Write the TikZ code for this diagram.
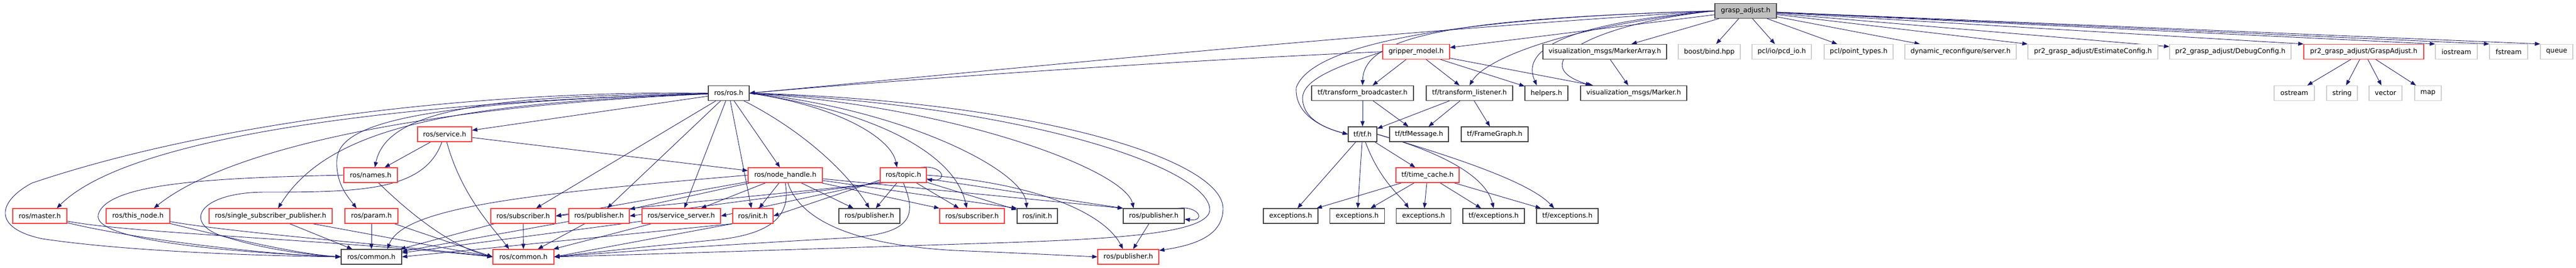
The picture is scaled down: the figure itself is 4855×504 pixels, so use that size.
\documentclass[tikz,border=0pt]{standalone}
\usepackage{fontspec}
\setmainfont{DejaVu Sans}
\usetikzlibrary{arrows.meta,calc,backgrounds}
\definecolor{depblue}{HTML}{191970}
\definecolor{truncred}{HTML}{FF3A3A}
\definecolor{extgrey}{HTML}{CDCDCD}
\definecolor{hdrgrey}{HTML}{404040}
\definecolor{rootfill}{HTML}{BFBFBF}
\tikzset{hdr/.style = {rectangle,draw=hdrgrey,line width=1.2pt,fill=white,minimum height=28pt,inner sep=0pt,font=\fontsize{12.7}{15}\selectfont},
  trunc/.style = {hdr,draw=truncred},
  ext/.style = {hdr,draw=extgrey},
  rootf/.style = {hdr,fill=rootfill},
  dep/.style = {draw=depblue,line width=0.9pt,-{Triangle[length=10pt,width=7.5pt]}}}

\begin{document}
\begin{tikzpicture}[x=1pt,y=-1pt]
        \useasboundingbox (0,0) rectangle (4855,504);
        % top rows
        \node [rootf,minimum width=116pt] (grasp) at (3290,20.5) {grasp\_adjust.h};
        \node [trunc,minimum width=126pt] (gripper) at (2669,97.5) {gripper\_model.h};
        \node [hdr,minimum width=233pt] (markerarray) at (3024.5,97.5) {visualization\_msgs/MarkerArray.h};
        \node [ext,minimum width=117pt] (boostbind) at (3221.5,97.5) {boost/bind.hpp};
        \node [ext,minimum width=112pt] (pcdio) at (3358,97.5) {pcl/io/pcd\_io.h};
        \node [ext,minimum width=130pt] (pointtypes) at (3503,97.5) {pcl/point\_types.h};
        \node [ext,minimum width=210pt] (dynserver) at (3695,97.5) {dynamic\_reconfigure/server.h};
        \node [ext,minimum width=245pt] (estimatecfg) at (3944.5,97.5) {pr2\_grasp\_adjust/EstimateConfig.h};
        \node [ext,minimum width=229pt] (debugcfg) at (4203.5,97.5) {pr2\_grasp\_adjust/DebugConfig.h};
        \node [trunc,minimum width=226pt] (graspadjust) at (4455,97.5) {pr2\_grasp\_adjust/GraspAdjust.h};
        \node [ext,minimum width=79pt] (iostream) at (4629.5,97.5) {iostream};
        \node [ext,minimum width=72pt] (fstream) at (4728,97.5) {fstream};
        \node [ext,minimum width=61pt] (queue) at (4818.5,97.5) {queue};

        \node [hdr,minimum width=77pt] (rosros) at (1373.5,175.5) {ros/ros.h};
        \node [hdr,minimum width=192pt] (tfbroad) at (2568,175.5) {tf/transform\_broadcaster.h};
        \node [hdr,minimum width=163pt] (tflisten) at (2769.5,175.5) {tf/transform\_listener.h};
        \node [hdr,minimum width=81pt] (helpers) at (2914.5,175.5) {helpers.h};
        \node [hdr,minimum width=200pt] (marker) at (3079,175.5) {visualization\_msgs/Marker.h};
        \node [ext,minimum width=76pt] (ostream) at (4324,175.5) {ostream};
        \node [ext,minimum width=58pt] (string) at (4414,175.5) {string};
        \node [ext,minimum width=62pt] (vector) at (4496,175.5) {vector};
        \node [ext,minimum width=50pt] (map) at (4576,175.5) {map};

        \node [trunc,minimum width=102pt] (service) at (838,253) {ros/service.h};
        \node [hdr,minimum width=54pt] (tftf) at (2568,253) {tf/tf.h};
        \node [hdr,minimum width=111pt] (tfmsg) at (2674.5,253) {tf/tfMessage.h};
        \node [hdr,minimum width=126pt] (framegraph) at (2817,253) {tf/FrameGraph.h};

        \node [trunc,minimum width=101pt] (names) at (698.5,330) {ros/names.h};
        \node [trunc,minimum width=140pt] (nodehandle) at (1480,330) {ros/node\_handle.h};
        \node [trunc,minimum width=87pt] (topic) at (1702.5,330) {ros/topic.h};
        \node [trunc,minimum width=119pt] (timecache) at (2690.5,330) {tf/time\_cache.h};

        % ros headers, lower rows
        \node [trunc,minimum width=102pt] (master) at (75,407) {ros/master.h};
        \node [trunc,minimum width=120pt] (thisnode) at (260,407) {ros/this\_node.h};
        \node [trunc,minimum width=232pt] (singlesub) at (510,407) {ros/single\_subscriber\_publisher.h};
        \node [trunc,minimum width=100pt] (param) at (700,407) {ros/param.h};
        \node [trunc,minimum width=122pt] (subA) at (986,407) {ros/subscriber.h};
        \node [trunc,minimum width=114pt] (pubA) at (1129,407) {ros/publisher.h};
        \node [trunc,minimum width=148pt] (srvserver) at (1284,407) {ros/service\_server.h};
        \node [trunc,minimum width=76pt] (initA) at (1419,407) {ros/init.h};
        \node [hdr,minimum width=115pt] (pubB) at (1638.5,407) {ros/publisher.h};
        \node [trunc,minimum width=122pt] (subB) at (1832,407) {ros/subscriber.h};
        \node [hdr,minimum width=76pt] (initB) at (1955,407) {ros/init.h};
        \node [hdr,minimum width=115pt] (pubC) at (2174.5,407) {ros/publisher.h};
        \node [hdr,minimum width=103pt] (excA) at (2432.5,407) {exceptions.h};
        \node [hdr,minimum width=103pt] (excB) at (2558,407) {exceptions.h};
        \node [hdr,minimum width=103pt] (excC) at (2683,407) {exceptions.h};
        \node [hdr,minimum width=116pt] (tfexcA) at (2815,407) {tf/exceptions.h};
        \node [hdr,minimum width=116pt] (tfexcB) at (2954,407) {tf/exceptions.h};

        \node [hdr,minimum width=114pt] (commonA) at (700,484) {ros/common.h};
        \node [trunc,minimum width=115pt] (commonB) at (986.5,484) {ros/common.h};
        \node [trunc,minimum width=115pt] (pubD) at (2126.5,484) {ros/publisher.h};

        \begin{scope}[on background layer]
        % grasp_adjust.h
        \foreach \t in {gripper,markerarray,boostbind,pcdio,pointtypes,dynserver,estimatecfg,debugcfg}
            \draw [dep] (grasp) -- (\t);
        \foreach \t in {graspadjust,iostream,fstream,queue}
            \draw [dep] (grasp) -- (\t.north west);
        \draw [dep] (grasp.west) .. controls (2600,60) and (1900,130) .. (rosros.east);
        \draw [dep] (grasp.west) .. controls (2750,35) and (2570,65) .. (tfbroad.north);
        \draw [dep] (grasp.west) .. controls (2700,35) and (2470,90) .. (2443,165) .. controls (2440,215) and (2490,240) .. (tftf.west);
        \draw [dep] (grasp.west) .. controls (2950,50) and (2800,110) .. (tflisten.north);
        \draw [dep] (grasp.west) .. controls (3000,40) and (2860,80) .. ($(helpers.north)+(-18,0)$);
        \draw [dep] (grasp.west) .. controls (3000,45) and (2870,120) .. ($(marker.north west)+(20,0)$);

        % gripper_model.h and tf
        \draw [dep] (gripper.west) .. controls (2200,115) and (1700,150) .. (rosros.east);
        \foreach \t in {tfbroad,tflisten,helpers,marker}
            \draw [dep] (gripper) -- (\t);
        \draw [dep] (gripper.west) .. controls (2520,125) and (2455,150) .. (2455,185) .. controls (2455,220) and (2490,240) .. (tftf.west);
        \draw [dep] (markerarray) -- (marker);
        \foreach \t in {tftf,tfmsg}
            \draw [dep] (tfbroad) -- (\t);
        \foreach \t in {tftf,tfmsg,framegraph}
            \draw [dep] (tflisten) -- (\t);
        \foreach \t in {excA,excB,timecache}
            \draw [dep] (tftf) -- (\t);
        \draw [dep] (tftf) .. controls (2600,340) and (2640,370) .. ($(excC.north)+(-28,0)$);
        \draw [dep] (tftf.east) .. controls (2710,285) and (2800,330) .. (tfexcA.north);
        \draw [dep] (tftf.east) .. controls (2720,290) and (2880,340) .. ($(tfexcB.north)+(-25,0)$);
        \foreach \t in {excA,excB,excC,tfexcA,tfexcB}
            \draw [dep] (timecache) -- (\t);
        \foreach \t in {ostream,string,vector,map}
            \draw [dep] (graspadjust) -- (\t);

        % ros/ros.h
        \foreach \t in {service,subA,pubA,srvserver,initA,nodehandle}
            \draw [dep] (rosros) -- (\t);
        \draw [dep] (rosros) .. controls (800,190) and (250,250) .. ($(master.north)+(32,0)$);
        \draw [dep] (rosros) .. controls (800,200) and (430,280) .. ($(thisnode.north)+(30,0)$);
        \draw [dep] (rosros) .. controls (850,195) and (620,240) .. ($(singlesub.north)+(14,0)$);
        \draw [dep] (rosros) .. controls (950,180) and (730,200) .. ($(names.north)+(8,0)$);
        \draw [dep] (rosros) .. controls (800,192) and (640,230) .. (635,300) .. controls (632,345) and (655,370) .. ($(param.north)+(-28,0)$);
        \draw [dep] (rosros.west) .. controls (900,170) and (400,230) .. (60,345) .. controls (-5,380) and (-15,430) .. (80,450) .. controls (250,475) and (500,482) .. (commonA.west);
        \draw [dep] (rosros) .. controls (1520,250) and (1600,330) .. (pubB.north);
        \draw [dep] (rosros.east) .. controls (1580,200) and (1680,260) .. ($(topic.north)+(-12,0)$);
        \draw [dep] (rosros.east) .. controls (1650,210) and (1800,290) .. ($(subB.north)+(-10,0)$);
        \draw [dep] (rosros.east) .. controls (1700,205) and (1930,320) .. ($(initB.north)+(-20,0)$);
        \draw [dep] (rosros.east) .. controls (1800,200) and (2120,320) .. ($(pubC.north)+(-38,0)$);
        \draw [dep] (rosros.east) .. controls (1950,190) and (2305,300) .. (2305,393) .. controls (2305,445) and (2250,462) .. ($(pubD.east)+(0,-12)$);
        \draw [dep] (rosros.east) .. controls (1950,200) and (2280,320) .. (2280,395) .. controls (2280,440) and (2100,450) .. (1900,457) .. controls (1500,470) and (1200,480) .. (commonB.east);

        % ros/service.h, ros/names.h
        \draw [dep] (service) -- (names);
        \draw [dep] (service) -- (nodehandle);
        \draw [dep] (service) .. controls (870,370) and (930,430) .. ($(commonB.north)+(-27,0)$);
        \draw [dep] (service) .. controls (800,360) and (680,362) .. (500,362) .. controls (370,362) and (340,425) .. (430,448) .. controls (500,470) and (580,480) .. (commonA.west);
        \draw [dep] (names.west) .. controls (400,335) and (200,345) .. (185,405) .. controls (175,455) and (450,476) .. (commonA.west);
        \draw [dep] (names) .. controls (770,400) and (850,465) .. (commonB.west);

        % down to ros/common.h
        \draw [dep] (master) .. controls (250,450) and (500,480) .. (commonA.west);
        \draw [dep] (master) .. controls (250,440) and (600,450) .. (commonB.west);
        \draw [dep] (thisnode) .. controls (400,440) and (550,478) .. (commonA.west);
        \draw [dep] (thisnode) .. controls (450,440) and (750,462) .. (commonB.west);
        \draw [dep] (singlesub) -- (commonA);
        \draw [dep] (singlesub) -- (commonB.west);
        \draw [dep] (param) -- (commonA);
        \draw [dep] (param) -- (commonB.west);
        \foreach \s in {subA,pubA,srvserver}
            \draw [dep] (\s) -- (commonA);
        \foreach \s in {subA,pubA,srvserver}
            \draw [dep] (\s) -- (commonB);
        \draw [dep] (initA.south west) -- (commonA.east);
        \draw [dep] (initA.south west) -- (commonB.east);

        % ros/node_handle.h
        \foreach \t in {pubA,srvserver,initA,pubB}
            \draw [dep] (nodehandle) -- (\t);
        \draw [dep] (nodehandle) -- (subA.east);
        \draw [dep] (nodehandle) -- (subB.north west);
        \draw [dep] (nodehandle) -- (initB.north west);
        \draw [dep] (nodehandle) -- (pubC.north west);
        \draw [dep] (nodehandle.west) .. controls (1000,365) and (760,390) .. ($(commonA.north)+(30,0)$);
        \draw [dep] (nodehandle.south) .. controls (1490,400) and (1465,440) .. (1350,452) .. controls (1200,466) and (1100,478) .. (commonB.east);
        \draw [dep] (nodehandle) .. controls (1510,420) and (1620,462) .. (1800,472) .. controls (1950,478) and (2020,482) .. (pubD.west);

        % ros/topic.h
        \draw [dep] ($(topic.north east)+(-12,0)$) .. controls +(45,-5) and +(40,5) .. ($(topic.east)+(0,8)$);
        \foreach \t in {pubB,subB,initB}
            \draw [dep] (topic) -- (\t);
        \draw [dep] (topic) -- (pubC.north west);
        \draw [dep] (topic.192) -- (initA.east);
        \draw [dep] (topic.196) -- (srvserver.east);
        \draw [dep] (topic.199) -- (pubA.east);
        \draw [dep] (topic.202) -- (subA.east);
        \draw [dep] (topic.east) .. controls (1950,345) and (2080,400) .. ($(pubD.north)+(-10,0)$);
        \draw [dep] (topic.south) .. controls (1730,410) and (1715,440) .. (1600,448) .. controls (1300,465) and (1150,476) .. (commonB.east);

        % ros/publisher.h
        \draw [dep] ($(pubC.north east)+(-12,0)$) .. controls +(40,-5) and +(40,5) .. ($(pubC.east)+(0,6)$);
        \draw [dep] (pubC) -- (pubD);
        \end{scope}
    \end{tikzpicture}
\end{document}
